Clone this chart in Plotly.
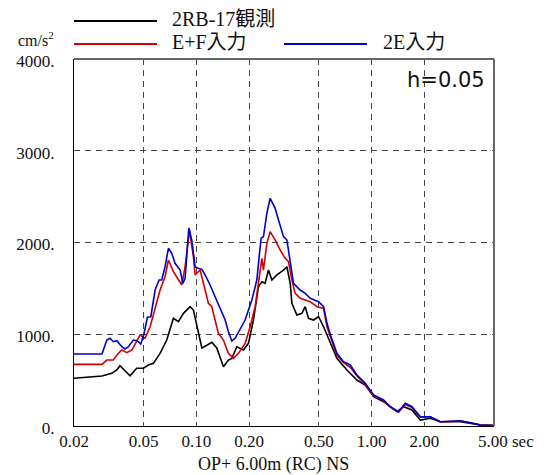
import plotly.graph_objects as go

# Acceleration response spectra (h = 0.05), period in sec, Sa in cm/s^2
period_obs = [0.0200, 0.0289, 0.0328, 0.0351, 0.0366, 0.0383, 0.0391, 0.0418, 0.0456, 0.0498,
              0.0532, 0.0568, 0.0620, 0.0677, 0.0739, 0.0789, 0.0843, 0.0920, 0.0961, 0.0990,
              0.1026, 0.1074, 0.1147, 0.1224, 0.1307, 0.1426, 0.1523, 0.1593, 0.1701, 0.1855,
              0.1982, 0.2116, 0.2260, 0.2364, 0.2468, 0.2578, 0.2696, 0.2880, 0.3142, 0.3285,
              0.3431, 0.3508, 0.3746, 0.4000, 0.4179, 0.4365, 0.4663, 0.4982, 0.5321, 0.5807,
              0.6339, 0.7232, 0.8248, 0.9205, 1.0266, 1.171, 1.397, 1.523, 1.701, 1.897,
              2.164, 2.468, 3.212, 4.18, 5.0]
sa_obs = [520, 545, 574, 610, 657, 620, 592, 548, 629, 629,
          665, 683, 792, 937, 1173, 1137, 1228, 1300, 1264, 1150,
          1010, 850, 880, 912, 850, 646, 719, 737, 864, 828,
          901, 1155, 1518, 1573, 1555, 1700, 1591, 1646, 1700, 1736,
          1555, 1337, 1210, 1228, 1300, 1173, 1155, 1191, 1082, 901,
          737, 610, 501, 447, 320, 265, 156, 210, 174, 65,
          84, 47, 47, 11, 5]

period_ef = [0.0200, 0.0289, 0.0308, 0.0335, 0.0358, 0.0375, 0.0400, 0.0428, 0.0477, 0.0509,
             0.0544, 0.0581, 0.0620, 0.0662, 0.0692, 0.0739, 0.0789, 0.0825, 0.0862, 0.0912,
             0.0961, 0.0983, 0.1050, 0.1121, 0.1171, 0.1224, 0.1278, 0.1335, 0.1426, 0.1523,
             0.1627, 0.1737, 0.1897, 0.2026, 0.2164, 0.2260, 0.2364, 0.2414, 0.2524, 0.2636,
             0.2816, 0.3008, 0.3212, 0.3356, 0.3508, 0.3664, 0.3911, 0.4179, 0.4464, 0.4876,
             0.5321, 0.5565, 0.5807, 0.6339, 0.6916, 0.7553, 0.8248, 0.9205, 1.0266, 1.171,
             1.279, 1.426, 1.557, 1.701, 1.897, 2.164, 2.468, 3.212, 3.664, 4.18, 5.0]
sa_ef = [672, 672, 719, 719, 792, 828, 799, 828, 992, 956,
         1082, 1300, 1482, 1627, 1809, 1682, 1591, 1537, 1736, 2136,
         1845, 1646, 1700, 1482, 1337, 1300, 1155, 1010, 937, 792,
         737, 792, 901, 1082, 1300, 1591, 1827, 1700, 1991, 2118,
         2027, 1918, 1827, 1791, 1591, 1446, 1391, 1373, 1355, 1300,
         1282, 1080, 980, 770, 690, 640, 545, 455, 330, 275,
         205, 150, 235, 200, 95, 100, 45, 55, 35, 12, 5]

period_2e = [0.0200, 0.0289, 0.0308, 0.0321, 0.0335, 0.0351, 0.0375, 0.0391, 0.0409, 0.0436,
             0.0460, 0.0481, 0.0500, 0.0525, 0.0549, 0.0581, 0.0612, 0.0634, 0.0662, 0.0692,
             0.0723, 0.0755, 0.0807, 0.0836, 0.0862, 0.0905, 0.0941, 0.0983, 0.1026, 0.1074,
             0.1121, 0.1197, 0.1278, 0.1365, 0.1459, 0.1523, 0.1593, 0.1664, 0.1777, 0.1897,
             0.2072, 0.2213, 0.2291, 0.2342, 0.2414, 0.2524, 0.2636, 0.2816, 0.2941, 0.3142,
             0.3285, 0.3431, 0.3583, 0.3911, 0.4179, 0.4464, 0.4982, 0.5321, 0.5565, 0.5807,
             0.6339, 0.6916, 0.7553, 0.8248, 0.9205, 1.0266, 1.171, 1.279, 1.426, 1.557,
             1.701, 1.897, 2.164, 2.468, 3.212, 3.664, 4.18, 5.0]
sa_2e = [785, 785, 937, 956, 919, 930, 864, 839, 864, 937,
         930, 894, 992, 1185, 1191, 1482, 1591, 1591, 1736, 1937,
         1882, 1773, 1700, 1555, 1610, 2160, 2027, 1736, 1718, 1707,
         1646, 1537, 1409, 1282, 1155, 1028, 927, 956, 1064, 1155,
         1373, 1591, 1882, 2046, 2064, 2318, 2482, 2373, 2245, 2064,
         2027, 1809, 1555, 1482, 1446, 1392, 1355, 1300, 1119, 1000,
         792, 701, 665, 556, 465, 338, 283, 210, 156, 247,
         210, 101, 101, 47, 58, 36, 11, 5]

x_tickvals = [0.02, 0.05, 0.1, 0.2, 0.5, 1, 2]
x_ticktext = ["0.02", "0.05", "0.10", "0.20", "0.50", "1.00", "2.00"]
y_tickvals = [0, 1000, 2000, 3000, 4000]
y_ticktext = ["0.", "1000.", "2000.", "3000.", "4000."]

SERIF = "Liberation Serif, Noto Sans CJK JP, serif"
BLACK = "#000000"
RED = "#d40000"
BLUE = "#0000cc"

fig = go.Figure()
for px_, sa, col in [(period_obs, sa_obs, BLACK), (period_ef, sa_ef, RED), (period_2e, sa_2e, BLUE)]:
    fig.add_trace(go.Scatter(x=px_, y=sa, mode="lines", line=dict(color=col, width=1.6),
                             showlegend=False, hoverinfo="skip"))

W, H = 544, 475
L, R, T, B = 74, 50, 59, 49

fig.update_layout(
    width=W, height=H,
    margin=dict(l=L, r=R, t=T, b=B, pad=0),
    paper_bgcolor="white", plot_bgcolor="white",
    font=dict(family=SERIF, size=17, color="#111"),
    xaxis=dict(type="log", range=[-1.69897, 0.69897],
               tickvals=x_tickvals, ticktext=x_ticktext,
               showgrid=True, gridcolor="#444", griddash="6px,5px", gridwidth=1,
               showline=True, linecolor="black", linewidth=1,
               ticks="", ticklabelstandoff=0, zeroline=False,
               tickfont=dict(family=SERIF, size=17, color="#111")),
    yaxis=dict(range=[0, 4000],
               tickvals=y_tickvals, ticktext=y_ticktext,
               showgrid=True, gridcolor="#444", griddash="6px,5px", gridwidth=1,
               showline=True, linecolor="black", linewidth=1,
               ticks="", ticklabelstandoff=15, ticklabelshift=2, zeroline=False,
               tickfont=dict(family=SERIF, size=17, color="#111")),
)

def px2paper_x(x):
    return (x - L) / (W - L - R)

def px2paper_y(y):
    return (H - B - y) / (H - T - B)

shapes = []
# top and right frame edges
shapes.append(dict(type="line", xref="paper", yref="paper", x0=0, x1=1, y0=1, y1=1,
                   line=dict(color="#666", width=2)))
shapes.append(dict(type="line", xref="paper", yref="paper", x0=1, x1=1, y0=0, y1=1,
                   line=dict(color="#666", width=2)))

# legend keys
legend_items = [
    (74, 157, 21, 170, "2RB-17観測", BLACK),
    (74, 157, 44, 170, "E+F入力", RED),
    (284, 367, 44, 381, "2E入力", BLUE),
]
annotations = []
for x0, x1, y, xt, label, col in legend_items:
    shapes.append(dict(type="line", xref="paper", yref="paper",
                       x0=px2paper_x(x0), x1=px2paper_x(x1),
                       y0=px2paper_y(y), y1=px2paper_y(y),
                       line=dict(color=col, width=2)))
    annotations.append(dict(xref="paper", yref="paper", x=px2paper_x(xt), y=px2paper_y(y - 2),
                            xanchor="left", yanchor="middle", showarrow=False, text=label,
                            font=dict(family=SERIF, size=20, color="#111")))

annotations += [
    dict(xref="paper", yref="paper", x=px2paper_x(56), y=px2paper_y(39),
         xanchor="right", yanchor="middle", showarrow=False, text="cm/s<sup>2</sup>",
         font=dict(family=SERIF, size=16, color="#111")),
    dict(xref="paper", yref="paper", x=px2paper_x(487), y=px2paper_y(80),
         xanchor="right", yanchor="middle", showarrow=False, text="h=0.05",
         font=dict(family="DejaVu Sans, sans-serif", size=21, color="#111")),
    dict(xref="paper", yref="paper", x=px2paper_x(476), y=px2paper_y(441),
         xanchor="left", yanchor="middle", showarrow=False, text="5.00 sec",
         font=dict(family=SERIF, size=17, color="#111")),
    dict(xref="paper", yref="paper", x=px2paper_x(273), y=px2paper_y(465),
         xanchor="center", yanchor="middle", showarrow=False, text="OP+ 6.00m (RC) NS",
         font=dict(family=SERIF, size=18, color="#111")),
]

fig.update_layout(shapes=shapes, annotations=annotations)
fig.write_html("out.html")
